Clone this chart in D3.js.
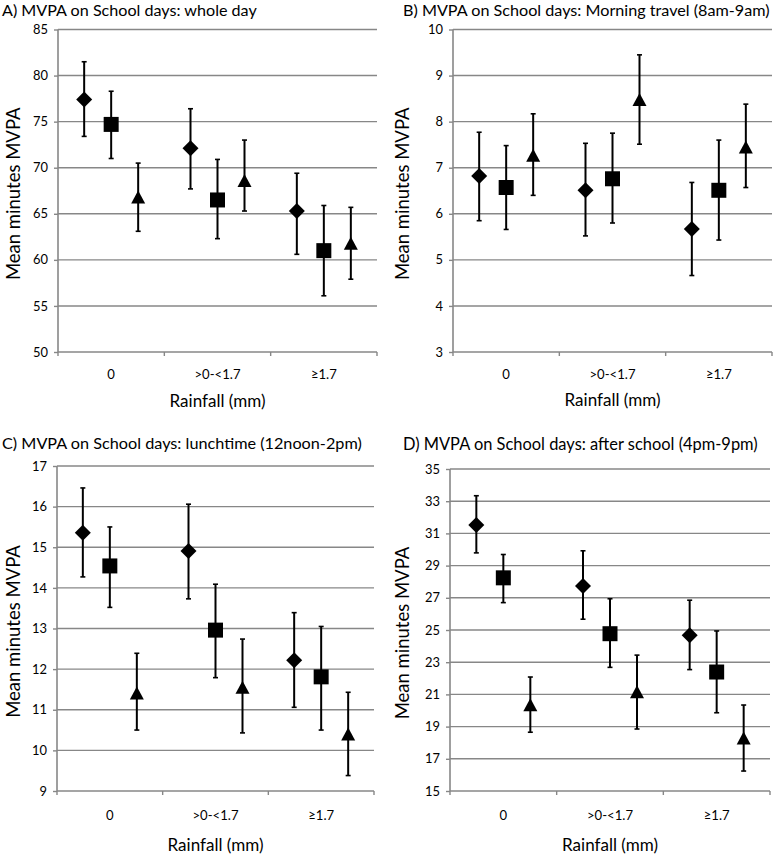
<!DOCTYPE html>
<html>
<head>
<meta charset="utf-8">
<script src="https://cdn.jsdelivr.net/npm/d3@7"></script>
<style>
  html, body { margin: 0; padding: 0; background: #fff; }
  svg { display: block; }
  text { font-family: Lato, "Open Sans", sans-serif; fill: #000; }
</style>
</head>
<body>
<svg id="chart" width="778" height="861"></svg>
<script>
// ---------- DATA ----------
const categories = ["0", ">0-<1.7", "\u22651.7"];
const seriesShapes = ["diamond", "square", "triangle"];
const panelTitles = [
  "A) MVPA on School days: whole day",
  "B) MVPA on School days: Morning travel (8am-9am)",
  "C) MVPA on School days: lunchtime (12noon-2pm)",
  "D) MVPA on School days: after school (4pm-9pm)"
];
const yDomains = [[50, 85], [3, 10], [9, 17], [15, 35]];
const yTickSteps = [5, 1, 1, 2];
const xAxisTitle = "Rainfall (mm)";
const yAxisTitle = "Mean minutes MVPA";

// values [series][category]
const meanA = [[77.4, 72.1, 65.3], [74.7, 66.5, 61.0], [66.7, 68.5, 61.7]];
const lowA  = [[73.4, 67.7, 60.6], [71.0, 62.3, 56.1], [63.1, 65.3, 57.9]];
const highA = [[81.5, 76.4, 69.4], [78.3, 70.9, 65.9], [70.5, 73.0, 65.7]];

const meanB = [[6.82, 6.51, 5.67], [6.57, 6.76, 6.51], [7.25, 8.46, 7.43]];
const lowB  = [[5.85, 5.52, 4.66], [5.66, 5.80, 5.43], [6.40, 7.51, 6.57]];
const highB = [[7.77, 7.53, 6.68], [7.48, 7.75, 7.60], [8.17, 9.45, 8.38]];

const meanC = [[15.36, 14.91, 12.22], [14.54, 12.96, 11.81], [11.39, 11.53, 10.38]];
const lowC  = [[14.27, 13.73, 11.06], [13.52, 11.79, 10.50], [10.50, 10.43, 9.38]];
const highC = [[16.46, 16.06, 13.39], [15.50, 14.09, 13.05], [12.39, 12.74, 11.43]];

const meanD = [[31.52, 27.74, 24.67], [28.24, 24.77, 22.39], [20.30, 21.10, 18.23]];
const lowD  = [[29.79, 25.67, 22.54], [26.70, 22.68, 19.86], [18.65, 18.85, 16.24]];
const highD = [[33.34, 29.92, 26.85], [29.69, 26.94, 24.94], [22.08, 23.44, 20.34]];

const panelMeans = [meanA, meanB, meanC, meanD];
const panelLows = [lowA, lowB, lowC, lowD];
const panelHighs = [highA, highB, highC, highD];

// ---------- LAYOUT ----------
const frames = [
  { x0: 58,  x1: 377, y0: 29.5, y1: 352, titleX: 2,   titleY: 16,  titleW: 255, catDy: 26.5, xtDy: 55, ytX: 20 },
  { x0: 453, x1: 772, y0: 29.5, y1: 352, titleX: 403, titleY: 16,  titleW: 367, catDy: 26.5, xtDy: 54, ytX: 409 },
  { x0: 57,  x1: 374, y0: 466,  y1: 791, titleX: 2,   titleY: 449, titleW: 360, catDy: 29,   xtDy: 60, ytX: 20 },
  { x0: 450, x1: 770, y0: 469,  y1: 791, titleX: 403, titleY: 450, titleW: 355, catDy: 29,   xtDy: 60, ytX: 409 }
];

const svg = d3.select("#chart");
const gridColor = "#878787";

// measure helper to pick font sizes matching the reference text widths
function sizeFor(str, targetW) {
  const t = svg.append("text").attr("font-size", 20).text(str);
  const w = t.node().getComputedTextLength();
  t.remove();
  return 20 * targetW / w;
}
const tickFont = Math.min(14.5, sizeFor("85", 15));
const catFont = sizeFor(">0-<1.7", 46);
const yTitleFont = Math.min(18.5, sizeFor(yAxisTitle, 186));
const xTitleFont = sizeFor(xAxisTitle, 96);

frames.forEach((f, pi) => {
  const g = svg.append("g");
  const [ymin, ymax] = yDomains[pi];
  const y = d3.scaleLinear().domain([ymin, ymax]).range([f.y1, f.y0]);
  const x = d3.scaleBand().domain(categories).range([f.x0, f.x1]);
  const off = d3.scalePoint().domain(seriesShapes).range([-27, 27]);
  const ticks = d3.range(ymin, ymax + 0.001, yTickSteps[pi]);

  // title
  g.append("text").attr("x", f.titleX).attr("y", f.titleY)
    .attr("font-size", sizeFor(panelTitles[pi], f.titleW)).text(panelTitles[pi]);

  // gridlines
  g.selectAll(".grid").data(ticks.filter(t => t !== ymin)).enter().append("line")
    .attr("x1", f.x0).attr("x2", f.x1)
    .attr("y1", d => y(d)).attr("y2", d => y(d))
    .attr("stroke", gridColor).attr("stroke-width", 1.4);

  // y axis
  const yAxis = d3.axisLeft(y).tickValues(ticks).tickSize(4).tickPadding(6).tickFormat(d3.format("d"));
  const ya = g.append("g").attr("transform", `translate(${f.x0},0)`).call(yAxis);
  ya.select(".domain").attr("stroke", gridColor).attr("stroke-width", 1.6)
    .attr("d", `M0,${f.y0}V${f.y1}`);
  ya.selectAll(".tick line").attr("stroke", gridColor).attr("stroke-width", 1.4);
  ya.selectAll(".tick text").attr("font-size", tickFont).attr("fill", "#000")
    .style("font-family", "Lato, 'Open Sans', sans-serif");

  // x axis
  const xa = g.append("g").attr("transform", `translate(0,${f.y1})`);
  xa.append("line").attr("x1", f.x0).attr("x2", f.x1).attr("y1", 0).attr("y2", 0)
    .attr("stroke", gridColor).attr("stroke-width", 1.6);
  const bounds = [f.x0].concat(categories.map(c => x(c) + x.bandwidth()));
  xa.selectAll(".xt").data(bounds).enter().append("line")
    .attr("x1", d => d).attr("x2", d => d).attr("y1", 0).attr("y2", 4)
    .attr("stroke", gridColor).attr("stroke-width", 1.4);
  xa.selectAll(".xl").data(categories).enter().append("text")
    .attr("x", d => x(d) + x.bandwidth() / 2).attr("y", f.catDy)
    .attr("text-anchor", "middle").attr("font-size", catFont).text(d => d);

  // axis titles
  g.append("text").attr("x", (f.x0 + f.x1) / 2).attr("y", f.y1 + f.xtDy)
    .attr("text-anchor", "middle").attr("font-size", xTitleFont).text(xAxisTitle);
  g.append("text")
    .attr("transform", `translate(${f.ytX},${(f.y0 + f.y1) / 2 + 3}) rotate(-90)`)
    .attr("text-anchor", "middle").attr("font-size", yTitleFont).text(yAxisTitle);

  // data
  const means = panelMeans[pi], lows = panelLows[pi], highs = panelHighs[pi];
  seriesShapes.forEach((s, si) => {
    categories.forEach((c, ci) => {
      const cx = x(c) + x.bandwidth() / 2 + off(s);
      g.append("line").attr("x1", cx).attr("x2", cx)
        .attr("y1", y(lows[si][ci])).attr("y2", y(highs[si][ci]))
        .attr("stroke", "#000").attr("stroke-width", 2);
      [lows[si][ci], highs[si][ci]].forEach(v => {
        g.append("line").attr("x1", cx - 2.5).attr("x2", cx + 2.5)
          .attr("y1", y(v)).attr("y2", y(v))
          .attr("stroke", "#000").attr("stroke-width", 1.6);
      });
      let sym;
      if (s === "diamond") {
        const h = 8;
        sym = `M0,${-h}L${h},0L0,${h}L${-h},0Z`;
      } else if (s === "square") {
        const h = 7.5;
        sym = `M${-h},${-h}H${h}V${h}H${-h}Z`;
      } else {
        sym = `M0,-7.5L7,5.5L-7,5.5Z`;
      }
      g.append("path").attr("d", sym)
        .attr("transform", `translate(${cx},${y(means[si][ci])})`)
        .attr("fill", "#000");
    });
  });
});
</script>
</body>
</html>
